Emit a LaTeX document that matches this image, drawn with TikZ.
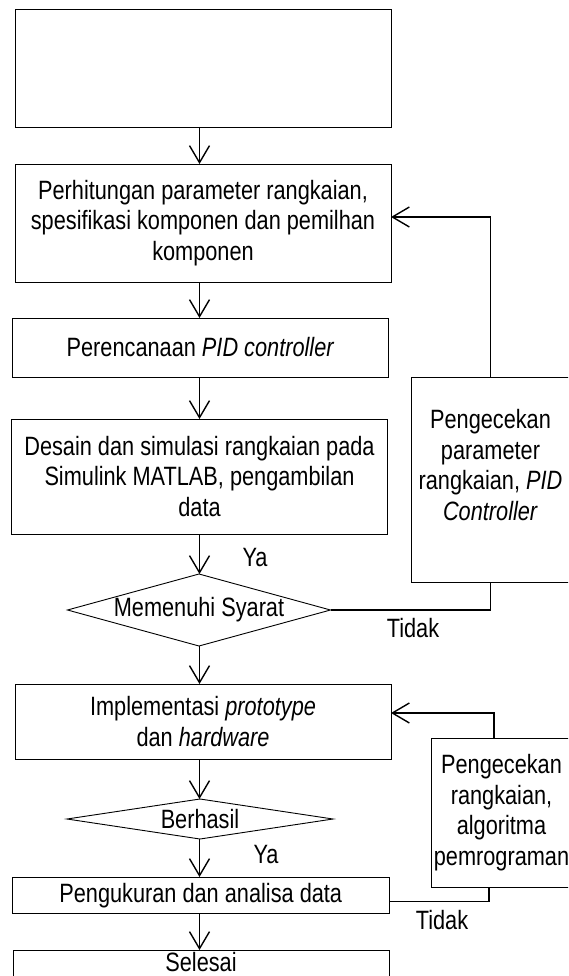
\documentclass[tikz,border=0pt]{standalone}
\usepackage{fontspec}
\setmainfont[FakeStretch=0.82]{Liberation Sans}
\usetikzlibrary{shapes.geometric,arrows.meta}
\newcommand{\diagfont}{\fontsize{26.5pt}{30.5pt}\selectfont}
\begin{document}
\begin{tikzpicture}[x=1pt,y=-1pt,
  box/.style={draw=black, line width=0.9pt, rectangle, inner sep=0pt, outer sep=0pt, align=center, font=\diagfont},
  dia/.style={draw=black, diamond, line width=0.9pt, inner sep=0pt, outer sep=0pt},
  arr/.style={line width=1.4pt, -{Straight Barb[length=17pt,width=20pt]}},
  conn/.style={line width=1.4pt},
  lbl/.style={font=\diagfont, inner sep=0pt, align=center}]
\useasboundingbox (0,0) rectangle (568,976);
\clip (0,0) rectangle (568,976);
\coordinate (col) at (199.5,0);
% main column
\node[box, minimum width=376pt, minimum height=118pt] (b1) at (203.5,68) {};
\node[box, minimum width=376pt, minimum height=118pt] (b2) at (203,223)
  {Perhitungan parameter rangkaian,\\spesifikasi komponen dan pemilhan\\komponen};
\node[box, minimum width=375.5pt, minimum height=59pt] (b3) at (200.5,347.5)
  {Perencanaan \textit{PID controller}};
\node[box, minimum width=375.5pt, minimum height=115pt] (b4) at (199.5,476.5)
  {Desain dan simulasi rangkaian pada\\Simulink MATLAB, pengambilan\\data};
\node[dia, minimum width=263pt, minimum height=72pt,
  label={[lbl]center:Memenuhi Syarat}] (d1) at (199,610) {};
\node[box, minimum width=376pt, minimum height=75pt] (b5) at (203,721.5)
  {Implementasi \textit{prototype}\\dan \textit{hardware}};
\node[dia, minimum width=266pt, minimum height=40pt,
  label={[lbl]center:Berhasil}] (d2) at (200,819) {};
\node[box, minimum width=376.5pt, minimum height=36.5pt] (b6) at (200.75,895.25)
  {Pengukuran dan analisa data};
\node[box, minimum width=376pt, minimum height=28pt,
  label={[lbl, yshift=2pt]center:Selesai}] (b7) at (201,964) {};
% side boxes
\node[box, minimum width=159pt, minimum height=205pt,
  label={[lbl, yshift=14.5pt]center:Pengecekan\\parameter\\rangkaian, \textit{PID}\\\textit{Controller}}] (r1) at (490.5,479.5) {};
\node[box, minimum width=141pt, minimum height=149pt] (r2) at (501.5,812.5)
  {Pengecekan\\rangkaian,\\algoritma\\pemrograman};
% labels
\node[lbl] (ya1) at (255,558) {Ya};
\node[lbl] (tidak1) at (413,628) {Tidak};
\node[lbl] (ya2) at (266,855) {Ya};
\node[lbl] (tidak2) at (442,920) {Tidak};
% vertical arrows
\draw[arr] (b1.south -| col) -- (b2.north -| col);
\draw[arr] (b2.south -| col) -- (b3.north -| col);
\draw[arr] (b3.south -| col) -- (b4.north -| col);
\draw[arr] (b4.south -| col) -- (d1.north -| col);
\draw[arr] (d1.south -| col) -- (b5.north -| col);
\draw[arr] (b5.south -| col) -- (d2.north -| col);
\draw[arr] (d2.south -| col) -- (b6.north -| col);
\draw[arr] (b6.south -| col) -- (b7.north -| col);
% feedback loops
\draw[conn] (d1.east) -| (r1.south);
\draw[arr] (r1.north) |- ([yshift=6pt]b2.east);
\draw[conn] ([yshift=-6pt]b6.east) -| ([xshift=-12.5pt]r2.south);
\draw[arr] ([xshift=-7.5pt]r2.north) |- ([yshift=8.5pt]b5.east);
\end{tikzpicture}
\end{document}
